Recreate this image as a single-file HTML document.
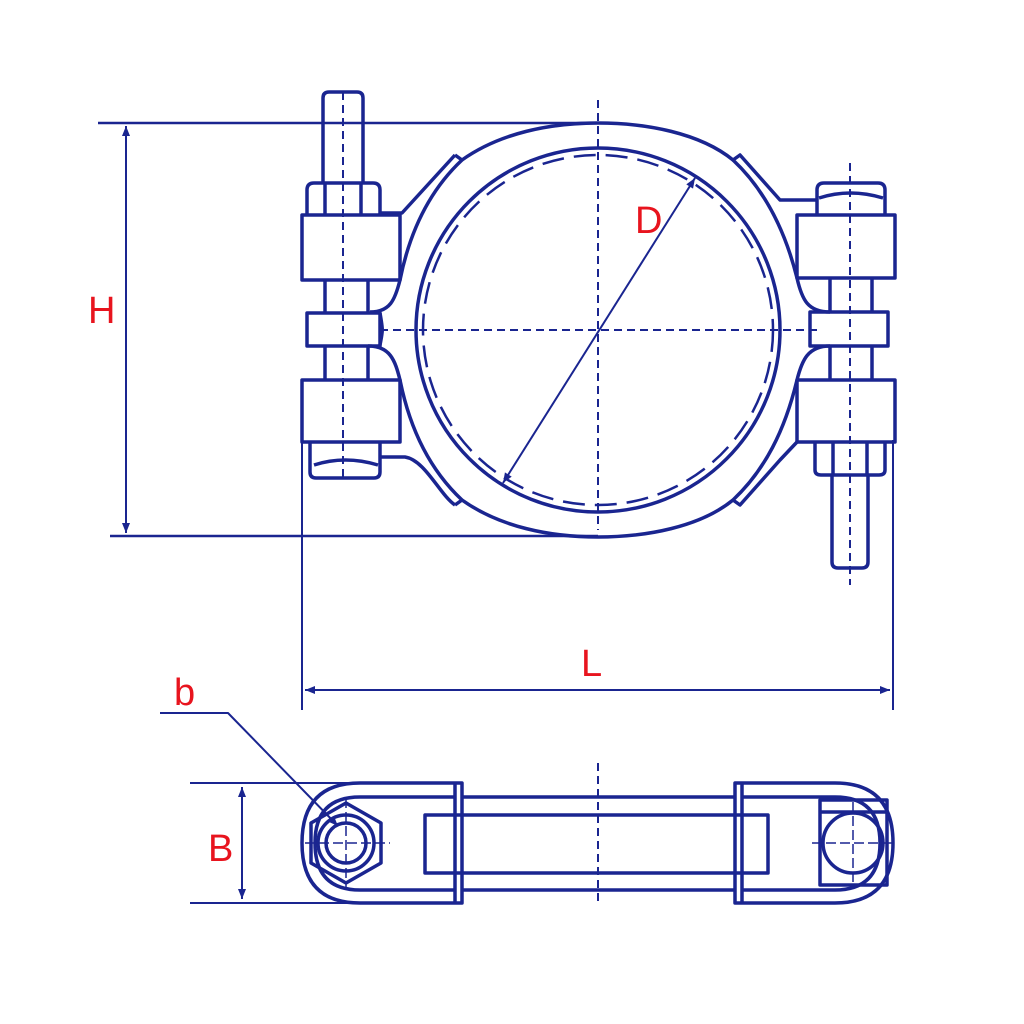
<!DOCTYPE html>
<html><head><meta charset="utf-8"><style>html,body{margin:0;padding:0;background:#fff}svg{display:block}</style></head>
<body>
<svg width="1024" height="1024" viewBox="0 0 1024 1024" xmlns="http://www.w3.org/2000/svg">
<defs>
<marker id="ar" viewBox="0 0 10 10" refX="10" refY="5" markerWidth="18" markerHeight="10" orient="auto-start-reverse" markerUnits="userSpaceOnUse"><path d="M0,1 L10,5 L0,9 Z" fill="#1a2590"/></marker>
</defs>
<rect width="1024" height="1024" fill="#fff"/>
<g stroke="#1a2590" fill="none" stroke-width="3.5" stroke-linejoin="round">
<!-- dimension H -->
<line x1="98" y1="123" x2="598" y2="123" stroke-width="2.5"/>
<line x1="110" y1="536" x2="598" y2="536" stroke-width="2.5"/>
<line x1="126" y1="126" x2="126" y2="533" stroke-width="2" marker-start="url(#ar)" marker-end="url(#ar)"/>
<!-- dimension L -->
<line x1="302" y1="440" x2="302" y2="710" stroke-width="2"/>
<line x1="893" y1="440" x2="893" y2="710" stroke-width="2"/>
<line x1="305" y1="690" x2="890" y2="690" stroke-width="2" marker-start="url(#ar)" marker-end="url(#ar)"/>
<!-- body band -->
<path d="M455,155 L462,160 C500,133 550,123 598,123 C646,123 700,133 733,160 L740,155 L780,200 L817,200"/>
<path d="M455,505 L462,500 C500,527 550,537 598,537 C646,537 700,527 733,500 L740,505 L780,460 L797,442"/>
<!-- left body -->
<path d="M380,213 L402,213 L455,155"/>
<path d="M400,280 C410,230 430,190 462,160"/>
<path d="M400,280 C395,300 390,312 370,312"/>
<path d="M380,313 C383,330 383,330 380,345"/>
<path d="M368,346 C390,346 395,360 400,380"/>
<path d="M400,380 C410,430 430,470 462,500"/>
<path d="M380,457 L405,457 C425,460 440,495 455,505"/>
<!-- right body -->
<path d="M797,278 C785,230 765,190 733,160"/>
<path d="M797,278 C802,300 808,312 830,312"/>
<path d="M830,346 C808,346 802,360 797,380"/>
<path d="M797,380 C785,430 765,470 733,500"/>
<!-- inner circle -->
<circle cx="598" cy="330" r="182"/>
<circle cx="598" cy="330" r="175" stroke-width="2.5" stroke-dasharray="22,10"/>
<!-- center lines -->
<line x1="598" y1="100" x2="598" y2="530" stroke-width="2" stroke-dasharray="8,5"/>
<line x1="380" y1="330" x2="820" y2="330" stroke-width="2" stroke-dasharray="8,5"/>
<!-- D -->
<line x1="503" y1="483" x2="695" y2="178" stroke-width="2" marker-start="url(#ar)" marker-end="url(#ar)"/>
<!-- left bolt -->
<path d="M323,183 L323,98 Q323,92 329,92 L357,92 Q363,92 363,98 L363,183"/>
<path d="M307,215 L307,190 Q307,183 314,183 L373,183 Q380,183 380,190 L380,215"/>
<line x1="325" y1="183" x2="325" y2="215"/><line x1="361" y1="183" x2="361" y2="215"/>
<rect x="302" y="215" width="98" height="65"/>
<line x1="325" y1="280" x2="325" y2="312"/><line x1="368" y1="280" x2="368" y2="312"/>
<rect x="307" y="313" width="73" height="33"/>
<line x1="325" y1="346" x2="325" y2="380"/><line x1="368" y1="346" x2="368" y2="380"/>
<rect x="302" y="380" width="98" height="62"/>
<path d="M310,442 L310,472 Q310,478 316,478 L374,478 Q380,478 380,472 L380,442"/>
<path d="M314,465 Q345,455 378,465"/>
<line x1="343" y1="92" x2="343" y2="478" stroke-width="2" stroke-dasharray="8,5"/>
<!-- right bolt -->
<path d="M817,215 L817,190 Q817,183 824,183 L878,183 Q885,183 885,190 L885,215"/>
<path d="M819,198 Q850,188 883,198"/>
<rect x="797" y="215" width="98" height="63"/>
<line x1="830" y1="278" x2="830" y2="312"/><line x1="872" y1="278" x2="872" y2="312"/>
<rect x="810" y="312" width="78" height="34"/>
<line x1="830" y1="346" x2="830" y2="380"/><line x1="872" y1="346" x2="872" y2="380"/>
<rect x="797" y="380" width="98" height="62"/>
<path d="M815,442 L815,470 Q815,475 821,475 L879,475 Q885,475 885,470 L885,442"/>
<line x1="833" y1="442" x2="833" y2="475"/><line x1="867" y1="442" x2="867" y2="475"/>
<path d="M832,475 L832,562 Q832,568 838,568 L862,568 Q868,568 868,562 L868,475"/>
<line x1="850" y1="163" x2="850" y2="585" stroke-width="2" stroke-dasharray="8,5"/>
<!-- bottom view -->
<line x1="190" y1="783" x2="462" y2="783" stroke-width="2"/>
<line x1="190" y1="903" x2="462" y2="903" stroke-width="2"/>
<line x1="242" y1="787" x2="242" y2="899" stroke-width="2" marker-start="url(#ar)" marker-end="url(#ar)"/>
<path d="M160,713 L228,713 L338,826" stroke-width="2" marker-end="url(#ar)"/>
<path d="M462,783 L360,783 Q302,783 302,843 Q302,903 360,903 L462,903 Z"/>
<path d="M455,797 L360,797 Q315,797 315,843 Q315,890 360,890 L455,890"/>
<path d="M735,783 L835,783 Q893,783 893,843 Q893,903 835,903 L735,903 Z"/>
<path d="M742,797 L835,797 Q880,797 880,843 Q880,890 835,890 L742,890"/>
<line x1="455" y1="783" x2="455" y2="903"/><line x1="742" y1="783" x2="742" y2="903"/>
<line x1="462" y1="797" x2="735" y2="797"/><line x1="462" y1="890" x2="735" y2="890"/>
<rect x="425" y="815" width="343" height="58"/>
<polygon points="346,803 381,823 381,863 346,883 311,863 311,823"/>
<circle cx="346" cy="843" r="28"/><circle cx="346" cy="843" r="20"/>
<rect x="820" y="800" width="67" height="85"/>
<line x1="820" y1="812" x2="887" y2="812"/>
<circle cx="853" cy="843" r="30"/>
<line x1="598" y1="763" x2="598" y2="905" stroke-width="2" stroke-dasharray="8,5"/>
<g stroke-width="1.5" stroke-dasharray="10,4">
<line x1="305" y1="843" x2="390" y2="843"/><line x1="346" y1="798" x2="346" y2="890"/>
<line x1="812" y1="843" x2="895" y2="843"/><line x1="853" y1="802" x2="853" y2="885"/>
</g>
</g>
<g fill="#e8141e" font-family="Liberation Sans, sans-serif" font-size="38">
<text x="88" y="323">H</text>
<text x="635" y="233">D</text>
<text x="581" y="676">L</text>
<text x="174" y="705">b</text>
<text x="208" y="861">B</text>
</g>
</svg>
</body></html>
